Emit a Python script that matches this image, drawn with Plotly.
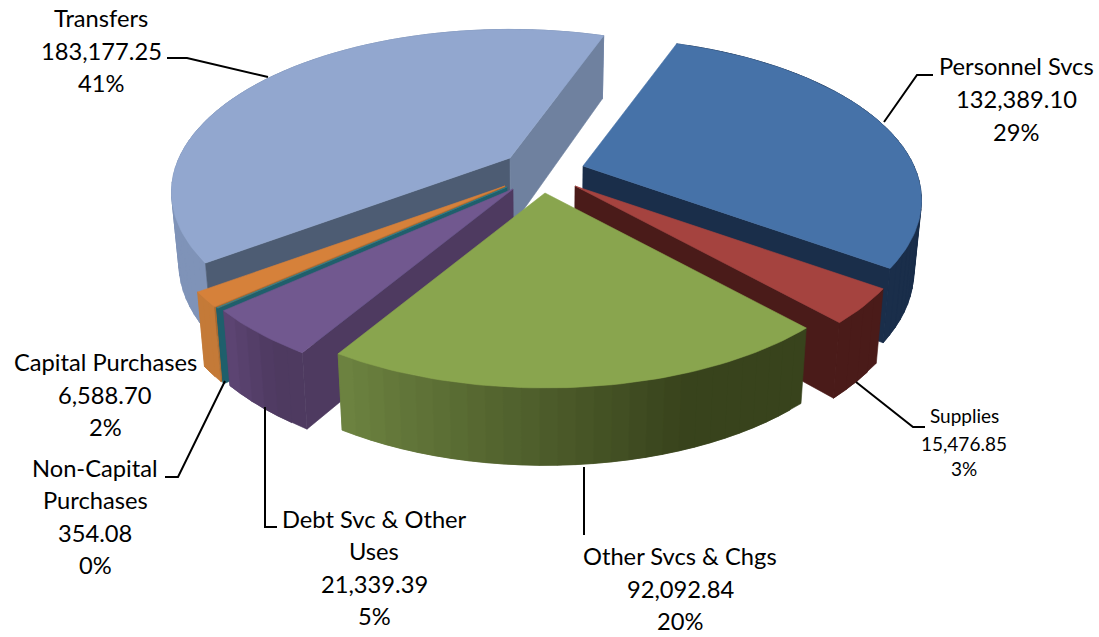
import math
import plotly.graph_objects as go

# ---- data ----
categories = ["Personnel Svcs", "Supplies", "Other Svcs & Chgs", "Debt Svc & Other Uses",
              "Non-Capital Purchases", "Capital Purchases", "Transfers"]
values = [132389.10, 15476.85, 92092.84, 21339.39, 354.08, 6588.70, 183177.25]
percents = ["29%", "3%", "20%", "5%", "0%", "2%", "41%"]

# ---- styling: exploded apex in pixels, radius scale ----
apex = [(583, 166), (575, 186), (545, 193), (513, 189), (507, 187), (505, 186), (510, 158)]
rscale = [0.997, 1.0, 0.99, 1.005, 1.005, 1.005, 0.997]
top_col = ["#4672A8", "#A5433F", "#89A54E", "#71588F", "#2F7F8F", "#D6813A", "#92A7CF"]
wall_a = ["#1A2E4A", "#4A1B19", "#38431C", "#4E3A60", "#1F5F6C", "#C47A38", "#7F93B8"]
wall_b = ["#1A2E4A", "#4A1B19", "#6C8240", "#5C4472", "#1F5F6C", "#C47A38", "#7F93B8"]
cut_start = ["#1A2E4A", "#4A1B19", "#38431C", "#4E3A60", "#1F5F6C", "#A86A30", "#4D5C73"]
cut_end = ["#1A2E4A", "#4A1B19", "#38431C", "#4E3A60", "#1F5F6C", "#A86A30", "#6F819F"]
paint_order = [6, 0, 5, 4, 3, 1, 2]
START_ANGLE = 19.8
RX, AY, P, CX = 332.0, 156.0, 0.21, 540.0


def rim(ap, theta, r=1.0):
    sx, sy = math.sin(theta) * r, -math.cos(theta) * r
    k = 1 / (1 - P * sy)
    return ap[0] + RX * sx * k, ap[1] + AY * sy * k, sy


def low(pt, sy):
    depth = 70 + 7.5 * sy
    return CX + (pt[0] - CX) * 0.98, pt[1] + depth


def lerp_hex(a, b, t):
    ca = [int(a[i:i + 2], 16) for i in (1, 3, 5)]
    cb = [int(b[i:i + 2], 16) for i in (1, 3, 5)]
    return "#%02x%02x%02x" % tuple(round(x + (y - x) * t) for x, y in zip(ca, cb))


fig = go.Figure()


def poly(pts, col):
    xs = [p[0] for p in pts] + [pts[0][0]]
    ys = [p[1] for p in pts] + [pts[0][1]]
    fig.add_trace(go.Scatter(x=xs, y=ys, mode="lines", fill="toself", fillcolor=col,
                             line=dict(color=col, width=0.6), hoverinfo="skip", showlegend=False))


total = sum(values)
angles = [START_ANGLE]
for v in values:
    angles.append(angles[-1] + v / total * 360)

for i in paint_order:
    a0, a1 = math.radians(angles[i]), math.radians(angles[i + 1])
    ap, r = apex[i], rscale[i]
    n = max(3, int((angles[i + 1] - angles[i]) / 2.5))
    # outer wall: overlapping quads so no seams show between them
    for j in range(n):
        t0 = a0 + (a1 - a0) * j / n
        t1 = a0 + (a1 - a0) * min(n, j + 2) / n
        x0, y0, s0 = rim(ap, t0, r)
        x1, y1, s1 = rim(ap, t1, r)
        frac = max(0.0, (j / max(1, n - 1) - 0.3) / 0.7)
        poly([(x0, y0), (x1, y1), low((x1, y1), s1), low((x0, y0), s0)],
             lerp_hex(wall_a[i], wall_b[i], frac))
    # cut walls, only those facing the viewer
    ap_low = low(ap, 0.0)
    if math.sin(a0) < 0:
        x, y, s = rim(ap, a0, r)
        poly([ap, (x, y), low((x, y), s), ap_low], cut_start[i])
    if math.sin(a1) > 0:
        x, y, s = rim(ap, a1, r)
        poly([ap, (x, y), low((x, y), s), ap_low], cut_end[i])
    # top face
    pts = [ap]
    for j in range(n * 2 + 1):
        t = a0 + (a1 - a0) * j / (n * 2)
        x, y, _ = rim(ap, t, r)
        pts.append((x, y))
    poly(pts, top_col[i])

# ---- leader lines ----
leaders = [
    ([167, 187, 268], [58, 58, 77]),
    ([933, 917, 884], [75, 75, 122]),
    ([856, 913, 925], [382, 427, 427]),
    ([584, 584], [467, 535]),
    ([265, 265, 277], [407, 527, 527]),
    ([225, 178, 165], [381, 477, 477]),
]
for lx, ly in leaders:
    fig.add_trace(go.Scatter(x=lx, y=ly, mode="lines", line=dict(color="black", width=2),
                             hoverinfo="skip", showlegend=False))

# ---- labels ----
amounts = ["{:,.2f}".format(v) for v in values]
label_lines = [
    ["Personnel Svcs", amounts[0], percents[0]],
    ["Supplies", amounts[1], percents[1]],
    ["Other Svcs & Chgs", amounts[2], percents[2]],
    ["Debt Svc & Other", "Uses", amounts[3], percents[3]],
    ["Non-Capital", "Purchases", amounts[4], percents[4]],
    ["Capital Purchases", amounts[5], percents[5]],
    ["Transfers", amounts[6], percents[6]],
]
label_pos = [
    (1016, [66, 99, 132], 23.7),
    (964, [415, 443, 468], 19),
    (680, [556, 589, 621], 23.7),
    (374, [519, 551, 584, 616], 23.7),
    (95, [468, 500, 533, 565], 23.7),
    (105, [362, 395, 427], 23.7),
    (101, [18, 51, 83], 23.7),
]
ann = []
for lines, (cx, ys, size) in zip(label_lines, label_pos):
    for text, y in zip(lines, ys):
        ann.append(dict(x=cx, y=y, text=text.replace("&", "&amp;"), showarrow=False, xref="x", yref="y",
                        xanchor="center", yanchor="middle",
                        font=dict(family="Lato", size=size, color="black")))

fig.update_layout(
    width=1099, height=637, margin=dict(l=0, r=0, t=0, b=0),
    paper_bgcolor="white", plot_bgcolor="white", annotations=ann, showlegend=False,
    xaxis=dict(range=[0, 1099], visible=False, fixedrange=True),
    yaxis=dict(range=[637, 0], visible=False, fixedrange=True),
)
fig.write_html("out.html", config=dict(displayModeBar=False),
               post_script="document.body.style.margin='0';")
